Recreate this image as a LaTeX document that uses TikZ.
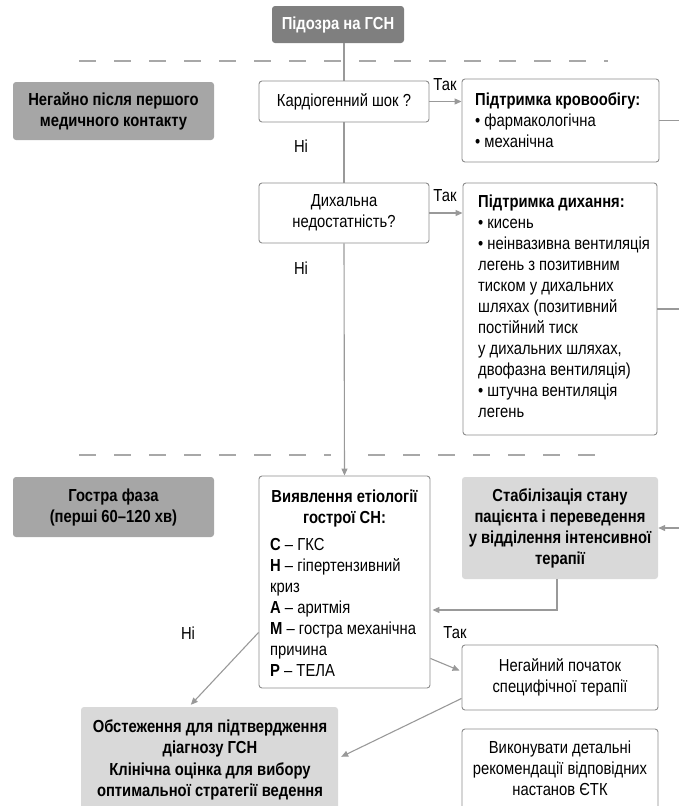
\documentclass[tikz,border=0pt]{standalone}
\usepackage{fontspec}
\setmainfont{Liberation Sans}[FakeStretch=0.85]
\usetikzlibrary{arrows.meta}
\definecolor{dk}{HTML}{7F7F7F}
\definecolor{md}{HTML}{A6A6A6}
\definecolor{lt}{HTML}{D9D9D9}
\definecolor{bd}{HTML}{8C8C8C}
\definecolor{lnc}{HTML}{999999}
\definecolor{dsc}{HTML}{A8A8A8}
\newcommand\fsz{\fontsize{17.4}{21}\selectfont}
\begin{document}
\begin{tikzpicture}[x=1pt,y=-1pt,
  font=\fsz,
  wbox/.style={draw=bd, line width=0.9pt, rounded corners=3pt, fill=white, inner sep=0pt},
  darkbox/.style={fill=dk, rounded corners=3pt, text=white, font=\fsz\bfseries, inner sep=0pt},
  midbox/.style={fill=md, rounded corners=3pt, font=\fsz\bfseries, align=center, inner sep=0pt},
  ltbox/.style={fill=lt, rounded corners=3pt, font=\fsz\bfseries, align=center, inner sep=0pt},
  conn/.style={draw=lnc, line width=1.1pt},
  arr/.style={draw=lnc, line width=1.1pt, -{Triangle[length=7pt,width=6pt]}},
  sep/.style={draw=dsc, line width=1.1pt, dash pattern=on 17pt off 18pt},
  lbl/.style={inner sep=0pt}]
\useasboundingbox (0,0) rectangle (678,806);

% separators
\draw[sep] (79,61) -- (608,61);
\draw[sep] (79,455) -- (331,455);
\draw[sep] (368,455) -- (608,455);

% boxes
\node[darkbox, minimum width=132pt, minimum height=37pt] (start) at (338,24.5) {Підозра на ГСН};
\node[midbox, minimum width=201pt, minimum height=58pt] (phase1) at (113.5,111) {Негайно після першого\\медичного контакту};
\node[midbox, minimum width=201pt, minimum height=60pt] (phase2) at (113.5,507) {Гостра фаза\\(перші 60–120 хв)};

\node[wbox, minimum width=170pt, minimum height=41pt] (kard) at (344,101.5) {Кардіогенний шок ?};
\node[wbox, minimum width=170pt, minimum height=60pt, align=center] (dykh) at (344,213) {Дихальна\\недостатність?};

\node[wbox, minimum width=197pt, minimum height=83pt] (krovo) at (560.5,120.5) {};
\node[lbl, anchor=west, align=left] (krovot) at (475,120.5)
  {\textbf{Підтримка кровообігу:}\\• фармакологічна\\• механічна};
\node[wbox, minimum width=194pt, minimum height=252pt] (dsup) at (560,309) {};
\node[lbl, anchor=west, align=left] (dsupt) at (478,306.5)
  {\textbf{Підтримка дихання:}\\• кисень\\• неінвазивна вентиляція\\легень з позитивним\\тиском у дихальних\\шляхах (позитивний\\постійний тиск\\у дихальних шляхах,\\двофазна вентиляція)\\• штучна вентиляція\\легень};

\node[wbox, minimum width=171pt, minimum height=212pt] (vyyav) at (344.5,582) {};
\node[lbl, align=center, font=\fsz\bfseries] (vyyavh) at (344.5,508)
  {Виявлення етіології\\гострої СН:};
\node[lbl, anchor=west, align=left] (vyyavt) at (270,607.5)
  {\textbf{C} – ГКС\\\textbf{H} – гіпертензивний\\криз\\\textbf{A} – аритмія\\\textbf{M} – гостра механічна\\причина\\\textbf{P} – ТЕЛА};

\node[ltbox, minimum width=196pt, minimum height=102pt] (stab) at (560,528)
  {Стабілізація стану\\пацієнта і переведення\\у відділення інтенсивної\\терапії};
\node[wbox, minimum width=196pt, minimum height=65pt, align=center] (negay) at (560,677.5)
  {Негайний початок\\специфічної терапії};
\node[wbox, minimum width=196pt, minimum height=100pt] (vykon) at (560,779) {};
\node[lbl, align=center] (vykont) at (560,768) {Виконувати детальні\\рекомендації відповідних\\настанов ЄТК};
\node[ltbox, minimum width=257pt, minimum height=120pt] (obst) at (209.5,767) {};
\node[lbl, align=center, font=\fontsize{17.4}{21.5}\selectfont\bfseries] (obstt) at (210,760)
  {Обстеження для підтвердження\\діагнозу ГСН\\Клінічна оцінка для вибору\\оптимальної стратегії ведення};

% labels
\node[lbl] (tak1) at (445,85) {Так};
\node[lbl] (tak2) at (445,196) {Так};
\node[lbl] (ni1) at (301,146) {Ні};
\node[lbl] (ni2) at (301,268) {Ні};
\node[lbl] (ni3) at (188,633) {Ні};
\node[lbl] (tak3) at (455,633) {Так};

% free ends at the right edge
\coordinate (r1) at (680,120.5);
\coordinate (r2) at (680,309);
\coordinate (r3) at (680,528);

% connectors
\draw[conn] ([xshift=6pt]start.south) -- (kard.north);
\draw[conn] (kard.south) -- (dykh.north);
\draw[arr] (dykh.south) -- (vyyav.north);
\draw[arr] (kard.east) -- (kard.east -| krovo.west);
\draw[arr] (dykh.east) -- (dykh.east -| dsup.west);
\draw[conn] (krovo.east) -- (r1);
\draw[conn] (dsup.east) -- (r2);
\draw[arr] (r3) -- (stab.east);
\draw[arr, shorten >=2pt] ([xshift=-3pt]stab.south) |- (vyyav.east |- 0,610);
\draw[arr] ([yshift=56pt]vyyav.south west) -- ([xshift=110pt,yshift=2pt]obst.north west);
\draw[arr] ([yshift=30pt]vyyav.south east) -- ([xshift=-2pt,yshift=-26pt]negay.north west);
\draw[arr] ([yshift=12pt]negay.south west) -- ([xshift=3pt,yshift=-50pt]obst.north east);
\end{tikzpicture}
\end{document}
